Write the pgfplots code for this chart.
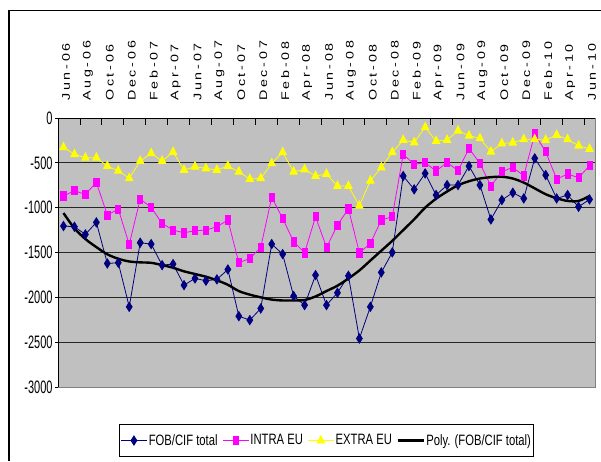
\documentclass[border=0pt]{standalone}
\usepackage{fontspec}
\setmainfont{Liberation Sans}
\newfontfamily\tickfont[FakeStretch=0.61]{Liberation Sans}
\newfontfamily\legfont[FakeStretch=0.75]{Liberation Sans}
\newfontfamily\labfont[FakeStretch=1.3,LetterSpace=25]{Liberation Sans}
\usepackage{pgfplots}
\pgfplotsset{compat=1.18}
\definecolor{navyb}{RGB}{0,0,128}
\definecolor{magc}{RGB}{255,0,255}
\definecolor{yelc}{RGB}{255,255,0}
\definecolor{silverc}{RGB}{192,192,192}
\definecolor{bordg}{RGB}{128,128,128}
\begin{document}
\begin{tikzpicture}
\useasboundingbox (0pt,0pt) rectangle (601pt,461pt);
\fill[white] (0pt,0pt) rectangle (601pt,461pt);
\draw[black,line width=1.2pt] (9pt,0pt) -- (9pt,450.3pt) -- (602pt,450.3pt);
\begin{axis}[
  at={(58pt,74pt)}, anchor=south west,
  scale only axis, width=537pt, height=269pt,
  xmin=-0.5, xmax=48.5, ymin=-3000, ymax=0,
  axis background/.style={fill=silverc, draw=bordg, line width=1pt},
  axis x line*=top, axis y line*=left,
  axis line style={black, line width=1pt},
  tick align=inside,
  major tick length=3pt, minor tick length=7pt,
  xtick={0,2,...,48}, xticklabels={Jun-06,Aug-06,Oct-06,Dec-06,Feb-07,Apr-07,Jun-07,Aug-07,Oct-07,Dec-07,Feb-08,Apr-08,Jun-08,Aug-08,Oct-08,Dec-08,Feb-09,Apr-09,Jun-09,Aug-09,Oct-09,Dec-09,Feb-10,Apr-10,Jun-10},
  minor xtick={1.5,3.5,...,47.5},
  every major x tick/.append style={draw=none},
  every minor x tick/.append style={black, line width=0.8pt},
  xticklabel style={xshift=2.5pt, rotate=90, anchor=west, font=\fontsize{11}{11}\labfont, inner sep=0pt},
  xticklabel shift=17pt,
  ytick={-2500,-2000,-1500,-1000,-500},
  yticklabels={-2500,-2000,-1500,-1000,-500},
  extra y ticks={-3000,0}, extra y tick labels={-3000,0},
  extra y tick style={grid=none},
  ytick style={black, line width=0.8pt, xshift=-3pt},
  yticklabel style={font=\fontsize{18}{18}\tickfont, xshift=-2pt},
  ymajorgrids, grid style={black!85, line width=0.8pt},
  legend image code/.code={\draw[mark repeat=2,mark phase=2] plot coordinates {(0pt,0pt) (13pt,0pt) (26pt,0pt)};},
  legend columns=4,
  legend style={at={(0.5,-0.199)}, anchor=center, draw=black, line width=0.8pt,
    font=\fontsize{15}{15}\legfont, inner xsep=1pt, inner ysep=8pt,
    /tikz/every even column/.append style={column sep=3pt},
    nodes={inner sep=1.5pt}},
]
\addplot[navyb, line width=0.8pt, mark=diamond*, mark size=4.6, mark options={solid, fill=navyb, xscale=0.85}] coordinates {
(0,-1205)(1,-1213)(2,-1298)(3,-1164)(4,-1622)(5,-1614)(6,-2106)(7,-1391)(8,-1406)(9,-1641)
(10,-1629)(11,-1864)(12,-1789)(13,-1815)(14,-1800)(15,-1689)(16,-2210)(17,-2254)(18,-2124)(19,-1406)
(20,-1518)(21,-1986)(22,-2087)(23,-1752)(24,-2087)(25,-1949)(26,-1760)(27,-2459)(28,-2106)(29,-1722)
(30,-1499)(31,-647)(32,-796)(33,-618)(34,-859)(35,-748)(36,-748)(37,-536)(38,-748)(39,-1131)
(40,-915)(41,-833)(42,-897)(43,-450)(44,-636)(45,-897)(46,-859)(47,-990)(48,-908)};
\addlegendentry{FOB/CIF total}
\addplot[magc, line width=0.8pt, mark=square*, mark size=2.6, mark options={solid, fill=magc, yscale=1.6}] coordinates {
(0,-870)(1,-811)(2,-852)(3,-718)(4,-1083)(5,-1016)(6,-1410)(7,-904)(8,-997)(9,-1176)
(10,-1250)(11,-1280)(12,-1257)(13,-1250)(14,-1213)(15,-1138)(16,-1614)(17,-1566)(18,-1443)(19,-885)
(20,-1120)(21,-1380)(22,-1503)(23,-1101)(24,-1443)(25,-1194)(26,-1012)(27,-1503)(28,-1399)(29,-1138)
(30,-1101)(31,-405)(32,-517)(33,-498)(34,-591)(35,-495)(36,-588)(37,-339)(38,-506)(39,-759)
(40,-599)(41,-551)(42,-644)(43,-179)(44,-376)(45,-681)(46,-625)(47,-666)(48,-532)};
\addlegendentry{INTRA EU}
\addplot[yelc, line width=0.8pt, mark=triangle*, mark size=4.3, mark options={solid, fill=yelc, yscale=1.15}] coordinates {
(0,-327)(1,-405)(2,-443)(3,-443)(4,-536)(5,-588)(6,-673)(7,-480)(8,-394)(9,-480)
(10,-379)(11,-580)(12,-543)(13,-562)(14,-580)(15,-536)(16,-599)(17,-681)(18,-673)(19,-506)
(20,-383)(21,-599)(22,-573)(23,-647)(24,-625)(25,-759)(26,-759)(27,-978)(28,-699)(29,-551)
(30,-383)(31,-246)(32,-272)(33,-104)(34,-257)(35,-246)(36,-141)(37,-197)(38,-227)(39,-376)
(40,-283)(41,-275)(42,-238)(43,-238)(44,-246)(45,-190)(46,-238)(47,-309)(48,-346)};
\addlegendentry{EXTRA EU}
\addplot[black, line width=2.4pt, no markers, smooth] coordinates {
(0,-1060)(1,-1230)(2,-1350)(3,-1440)(4,-1520)(5,-1570)(6,-1600)(7,-1610)(8,-1615)(9,-1640)
(10,-1670)(11,-1710)(12,-1740)(13,-1770)(14,-1810)(15,-1860)(16,-1930)(17,-1970)(18,-2000)(19,-2025)
(20,-2035)(21,-2035)(22,-2030)(23,-1990)(24,-1930)(25,-1870)(26,-1790)(27,-1700)(28,-1590)(29,-1480)
(30,-1370)(31,-1250)(32,-1130)(33,-1000)(34,-900)(35,-820)(36,-750)(37,-705)(38,-675)(39,-660)
(40,-655)(41,-675)(42,-720)(43,-785)(44,-850)(45,-895)(46,-925)(47,-925)(48,-870)};
\addlegendentry{Poly. (FOB/CIF total)}
\end{axis}
\end{tikzpicture}
\end{document}
